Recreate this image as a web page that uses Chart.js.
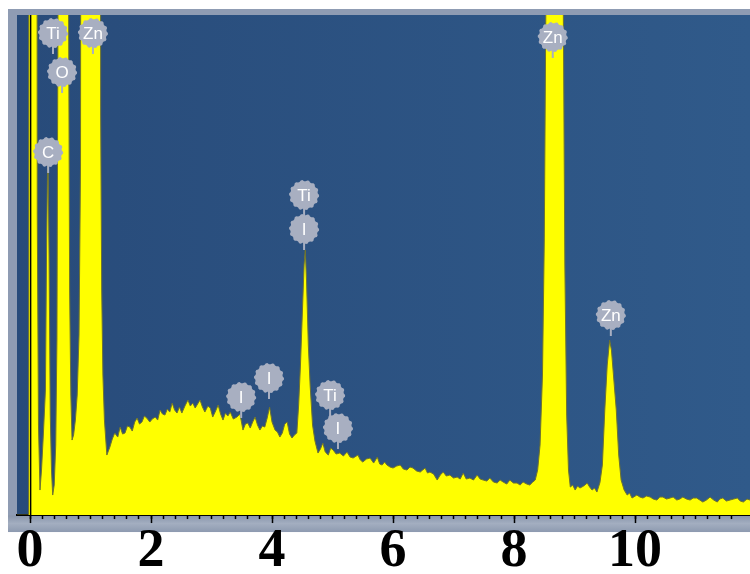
<!DOCTYPE html>
<html>
<head>
<meta charset="utf-8">
<title>EDS spectrum</title>
<script src="https://cdn.jsdelivr.net/npm/chart.js@4.4.0/dist/chart.umd.min.js"></script>
<style>
  html, body { margin: 0; padding: 0; background: #fff; }
  #wrap { width: 750px; height: 574px; }
</style>
</head>
<body>
<div id="wrap"><canvas id="edsChart" width="750" height="574"></canvas></div>
<script>
// energy (keV) and counts, split in three parts
const energyLow = [-0.215, -0.025, -0.015, 0.105, 0.12, 0.14, 0.165, 0.19, 0.22, 0.255,
  0.275, 0.295, 0.315, 0.335, 0.355, 0.375, 0.40, 0.425, 0.445, 0.462,
  0.475, 0.625, 0.638, 0.655, 0.675, 0.695, 0.72, 0.75, 0.78, 0.81,
  0.835, 0.852, 1.155, 1.168, 1.185, 1.205, 1.23];
const countsLow = [0, 0, 300, 300, 60, 18, 5, 9, 16, 25,
  55, 74, 52, 20, 9, 4, 6, 14, 35, 100,
  300, 300, 100, 45, 24, 15, 16, 19, 24, 36,
  70, 300, 300, 80, 45, 28, 19];

const energyMid = [1.27, 1.32, 1.36, 1.40, 1.45, 1.49, 1.53, 1.57, 1.61, 1.65,
  1.69, 1.73, 1.77, 1.81, 1.85, 1.89, 1.93, 1.98, 2.02, 2.07,
  2.11, 2.15, 2.19, 2.23, 2.27, 2.31, 2.35, 2.39, 2.43, 2.47,
  2.51, 2.56, 2.61, 2.65, 2.69, 2.73, 2.77, 2.81, 2.85, 2.89,
  2.94, 2.98, 3.02, 3.06, 3.11, 3.15, 3.19, 3.23, 3.27, 3.31,
  3.36, 3.42, 3.47, 3.52, 3.56, 3.60, 3.64, 3.68, 3.72, 3.76,
  3.80, 3.84, 3.88, 3.92, 3.96, 4.00, 4.05, 4.09, 4.13, 4.17,
  4.21, 4.25, 4.29, 4.33, 4.37, 4.41, 4.44, 4.47, 4.50, 4.53,
  4.55, 4.57, 4.60, 4.63, 4.67, 4.71, 4.76, 4.80, 4.84, 4.88,
  4.93, 4.97, 5.01, 5.06, 5.12, 5.18, 5.24, 5.29, 5.34, 5.42,
  5.46, 5.50, 5.56, 5.62, 5.68, 5.74, 5.78, 5.82, 5.86, 5.90,
  5.95, 6.00, 6.06, 6.12, 6.17, 6.23, 6.28, 6.33, 6.39, 6.45,
  6.49, 6.53, 6.57, 6.61, 6.67, 6.73, 6.78, 6.83, 6.88, 6.94,
  7.00, 7.06, 7.11, 7.16, 7.21, 7.27, 7.33, 7.39, 7.44, 7.49,
  7.55, 7.60, 7.66, 7.72, 7.77, 7.82, 7.88, 7.93, 7.99, 8.05,
  8.10, 8.15, 8.21, 8.26, 8.31, 8.35];
const countsMid = [12, 13.6, 15.2, 16.4, 15.6, 17.6, 16.2, 16.4, 17.8, 17.6,
  16.8, 18.6, 19.4, 18.2, 18.6, 19.8, 19.4, 18.6, 19.2, 19.6,
  19, 21, 20.2, 20, 21.2, 20.6, 22.4, 21, 20.4, 21.6,
  20.4, 21.8, 23, 21.8, 22.4, 21.4, 22.2, 23, 21.6, 20.6,
  21.8, 21.4, 19.6, 20.6, 22, 20.2, 19, 20.4, 19.8, 20.6,
  19.2, 19.6, 20.2, 17, 18.2, 18.4, 17.4, 18.6, 19.6, 18,
  17, 17.8, 17.6, 19.4, 21.6, 18.6, 17, 16.6, 15.6, 16.4,
  18.2, 18.6, 16.2, 15.4, 16, 16.4, 22, 30, 40, 50,
  53, 47, 34, 26, 18, 14.8, 12.4, 13.2, 14.4, 12.6,
  12, 13.4, 13, 12.2, 12.4, 11.8, 12.6, 11.6, 11.4, 12,
  11, 10.6, 11.2, 11.4, 10.4, 11.6, 10.2, 10, 10.6, 10,
  9.6, 9.4, 9.8, 10, 9.2, 9, 9.6, 9.4, 8.8, 8.6,
  9, 9.4, 8.4, 8.6, 8.2, 7, 8, 8.6, 7.8, 8,
  7.4, 7.6, 7.2, 8.4, 7.2, 7.4, 7, 8, 7.2, 7,
  6.8, 7.4, 6.6, 6.4, 7, 6.6, 6.2, 7, 6.4, 6.4,
  6, 6.6, 6.2, 6, 6.6, 7];

const energyHigh = [8.39, 8.43, 8.47, 8.50, 8.525, 8.545, 8.795, 8.815, 8.84, 8.87,
  8.90, 8.93, 8.97, 9.01, 9.05, 9.09, 9.15, 9.21, 9.25, 9.29,
  9.33, 9.37, 9.42, 9.46, 9.50, 9.54, 9.58, 9.61, 9.65, 9.69,
  9.73, 9.77, 9.82, 9.87, 9.91, 9.95, 10.03, 10.08, 10.13, 10.19,
  10.25, 10.30, 10.36, 10.41, 10.46, 10.52, 10.58, 10.63, 10.69, 10.74,
  10.79, 10.85, 10.91, 10.96, 11.02, 11.07, 11.12, 11.18, 11.24, 11.30,
  11.36, 11.40, 11.45, 11.51, 11.57, 11.63, 11.69, 11.74, 11.79, 11.85,
  11.90];
const countsHigh = [9, 14, 28, 55, 100, 300, 300, 100, 50, 20,
  9, 5.6, 6, 5, 5.8, 5.4, 5.8, 6.4, 5.6, 5,
  5.4, 4.6, 6.5, 10, 21, 30, 35, 33, 27, 21,
  12, 7, 5, 4, 4.4, 3.4, 4, 3.6, 3.4, 3.8,
  3.6, 3.2, 3, 3.6, 3.6, 3.2, 3.4, 3.6, 3, 3.2,
  3.6, 3.2, 3, 3.4, 3.4, 3, 2.6, 3, 3.6, 3,
  2.6, 3.2, 3.4, 2.8, 3, 3.2, 3.4, 2.8, 2.6, 3.2,
  3];

// element markers: name, energy (keV), height of the badge centre (counts)
const peakNames = ['Ti', 'Zn', 'O', 'C', 'Ti', 'I', 'I', 'I', 'Ti', 'I', 'Zn', 'Zn'];
const peakEnergy = [0.38, 1.04, 0.53, 0.30, 4.53, 4.53, 3.49, 3.95, 4.96, 5.09, 8.64, 9.60];
const peakLevel = [96.4, 96.4, 88.6, 72.6, 64, 57.2, 23.6, 27.4, 24, 17.4, 95.6, 40];

const xTickLabels = [0, 2, 4, 6, 8, 10];
const zeroMarkerKeV = 0.01;

const energy = energyLow.concat(energyMid, energyHigh);
const counts = countsLow.concat(countsMid, countsHigh);
const spectrum = energy.map((e, i) => ({ x: e, y: counts[i] }));

const isMajor = v => xTickLabels.some(t => Math.abs(t - v) < 1e-6);
const isStep = v => Math.abs(v * 5 - Math.round(v * 5)) < 1e-6;

// grey frame + blue plot background
const framePlugin = {
  id: 'frame',
  beforeDraw(chart) {
    const { ctx, chartArea: a, width } = chart;
    ctx.save();
    ctx.fillStyle = '#ffffff';
    ctx.fillRect(0, 0, width, chart.height);
    const g = ctx.createLinearGradient(0, a.bottom, 0, a.bottom + 17);
    g.addColorStop(0, '#8794aa');
    g.addColorStop(0.5, '#a3aec0');
    g.addColorStop(1, '#8d9ab0');
    ctx.fillStyle = '#8f9cb3';
    ctx.fillRect(8, 9, width - 8, a.bottom - 9);
    ctx.fillStyle = g;
    ctx.fillRect(8, a.bottom, width - 8, 17);
    const bg = ctx.createLinearGradient(a.left, 0, a.right, 0);
    bg.addColorStop(0, '#284b7a');
    bg.addColorStop(1, '#305a8a');
    ctx.fillStyle = bg;
    ctx.fillRect(a.left, a.top, a.right - a.left, a.bottom - a.top);
    ctx.restore();
  },
  afterDraw(chart) {
    // longer ticks at the labelled energies
    const { ctx, chartArea: a } = chart;
    const xs = chart.scales.x;
    ctx.save();
    ctx.strokeStyle = '#000';
    ctx.lineWidth = 1.5;
    xTickLabels.forEach(v => {
      const px = Math.round(xs.getPixelForValue(v)) + 0.5;
      ctx.beginPath();
      ctx.moveTo(px, a.bottom);
      ctx.lineTo(px, a.bottom + 8);
      ctx.stroke();
    });
    ctx.restore();
  }
};

function drawBadge(ctx, x, y, text) {
  const teeth = 14, rOut = 15, rIn = 13.8;
  ctx.fillStyle = '#a8afc1';
  ctx.beginPath();
  for (let i = 0; i < teeth * 4; i++) {
    const ang = i * Math.PI / (teeth * 2);
    const r = (i % 4 < 2) ? rOut : rIn;
    const px = x + r * Math.cos(ang), py = y + r * Math.sin(ang);
    if (i === 0) ctx.moveTo(px, py); else ctx.lineTo(px, py);
  }
  ctx.closePath();
  ctx.fill();
  ctx.fillStyle = '#ffffff';
  ctx.font = '17px "Liberation Sans", Arial, sans-serif';
  ctx.textAlign = 'center';
  ctx.textBaseline = 'middle';
  ctx.fillText(text, x, y + 1);
}

const badgePlugin = {
  id: 'badges',
  afterDatasetsDraw(chart) {
    const { ctx } = chart;
    const xs = chart.scales.x, ys = chart.scales.y;
    ctx.save();
    peakNames.forEach((name, i) => {
      const px = xs.getPixelForValue(peakEnergy[i]);
      const py = ys.getPixelForValue(peakLevel[i]);
      ctx.strokeStyle = '#a8afc1';
      ctx.lineWidth = 2;
      ctx.beginPath();
      ctx.moveTo(px, py + 12);
      ctx.lineTo(px, py + 21);
      ctx.stroke();
      drawBadge(ctx, px, py, name);
    });
    ctx.restore();
  }
};

new Chart(document.getElementById('edsChart').getContext('2d'), {
  type: 'line',
  data: {
    datasets: [{
      label: 'zero',
      data: [{ x: zeroMarkerKeV, y: 0 }, { x: zeroMarkerKeV, y: 100 }],
      borderColor: '#000000',
      borderWidth: 1.5,
      fill: false,
      pointRadius: 0,
      order: 0
    }, {
      label: 'counts',
      data: spectrum,
      borderColor: '#6e7330',
      borderWidth: 1,
      backgroundColor: '#ffff00',
      fill: 'origin',
      pointRadius: 0,
      tension: 0,
      order: 1
    }]
  },
  options: {
    responsive: false,
    animation: false,
    devicePixelRatio: 1,
    layout: { autoPadding: false, padding: { left: 17, top: 15, right: 0, bottom: -12 } },
    plugins: { legend: { display: false }, tooltip: { enabled: false } },
    scales: {
      x: {
        type: 'linear',
        min: -0.215,
        max: 11.9,
        border: { display: true, color: '#000', width: 2 },
        grid: {
          drawOnChartArea: false,
          drawTicks: true,
          tickLength: 4,
          tickWidth: 1.5,
          tickColor: c => (c.tick && isStep(c.tick.value)) ? '#000' : 'rgba(0,0,0,0)'
        },
        ticks: {
          stepSize: 0.2,
          autoSkip: false,
          maxRotation: 0,
          minRotation: 0,
          padding: 0,
          color: '#000',
          font: { family: '"Liberation Serif", "Times New Roman", serif', size: 54, weight: 'bold', lineHeight: 1.24 },
          callback: v => isMajor(v) ? String(Math.round(v)) : ''
        }
      },
      y: { display: false, min: 0, max: 100 }
    }
  },
  plugins: [framePlugin, badgePlugin]
});
</script>
</body>
</html>
